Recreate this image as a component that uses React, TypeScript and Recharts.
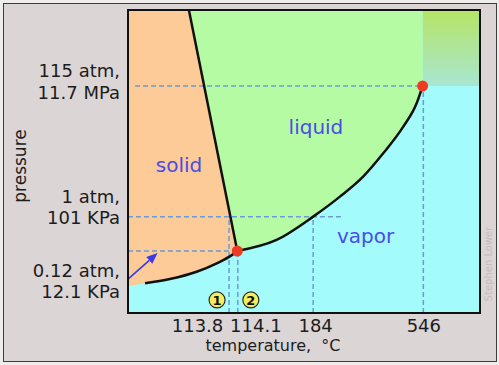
import React from 'react';
import {
  ComposedChart,
  XAxis,
  YAxis,
  Area,
  Line,
  ReferenceArea,
  ReferenceLine,
  ReferenceDot,
} from 'recharts';

// schematic phase diagram, both axes in arbitrary diagram units 0..100 (not to scale)
const TEMP_TICKS = [28.7, 31.2, 52.6, 83.9];
const TEMP_LABELS = ['113.8', '114.1', '184', '546'];
const PRESSURE_TICKS = [20.46, 31.8, 74.9];
const PRESSURE_LABELS = [
  ['0.12 atm,', '12.1 KPa'],
  ['1 atm,', '101 KPa'],
  ['115 atm,', '11.7 MPa'],
];

const MELT_T = [17.3, 31.05];
const MELT_P = [100, 20.46];
const SUBL_T = [0, 4.83, 11.9, 19.5, 25.2, 29.5, 31.05];
const SUBL_P = [8.9, 9.8, 11.2, 13.6, 16.4, 19.1, 20.46];
const VAPOR_T = [31.05, 42.2, 52.6, 60.2, 66.8, 72.5, 78.2, 82.0, 83.7];
const VAPOR_P = [20.46, 24.1, 31.8, 38.4, 45.0, 52.7, 61.5, 69.2, 74.9];
const TRIPLE = { t: 31.05, p: 20.46 };
const CRITICAL = { t: 83.7, p: 74.9 };
const ARROW = [{ t: 0, p: 11.2 }, { t: 8.4, p: 19.8 }];
const MARKS = [{ t: 25.3, p: 4.3, n: '1' }, { t: 34.9, p: 4.3, n: '2' }];
const REGIONS = [
  { t: 14.5, p: 48.8, name: 'solid' },
  { t: 53.4, p: 61.4, name: 'liquid' },
  { t: 67.5, p: 25.5, name: 'vapor' },
];

const zip = (t: number[], p: number[]) => t.map((x, i) => ({ t: x, p: p[i] }));

const FONT = '"DejaVu Sans", Verdana, sans-serif';
const SOLID = '#fccb98';
const LIQUID = '#b4fba4';
const VAPOR = '#a4fbfb';
const DASH = '#6e9bd0';
const TEXT = '#1c1c1c';
const REGION_TEXT = '#4c4ce6';

const TEMP_SHIFT = [-31.5, 18, 2.5, 0.5];
const PRESSURE_BASELINES = [
  [25.5, 46.5],
  [-14, 7],
  [-9, 13],
];

const TempTick = (props: any) => {
  const { x, payload } = props;
  const i = TEMP_TICKS.indexOf(payload.value);
  if (i < 0) return null;
  return (
    <text x={x + TEMP_SHIFT[i]} y={332} textAnchor="middle" fontSize={18} fontFamily={FONT} fill={TEXT}>
      {TEMP_LABELS[i]}
    </text>
  );
};

const PressureTick = (props: any) => {
  const { y, payload } = props;
  const i = PRESSURE_TICKS.indexOf(payload.value);
  if (i < 0) return null;
  return (
    <g>
      {PRESSURE_LABELS[i].map((s, k) => (
        <text key={k} x={120} y={y + PRESSURE_BASELINES[i][k]} textAnchor="end" fontSize={18} fontFamily={FONT} fill={TEXT}>
          {s}
        </text>
      ))}
    </g>
  );
};

const Arrow = (props: any) => {
  const { x1, y1, x2, y2 } = props;
  const a = Math.atan2(y2 - y1, x2 - x1);
  const c = Math.cos(a);
  const s = Math.sin(a);
  const bx = x2 - 11 * c;
  const by = y2 - 11 * s;
  return (
    <g>
      <line x1={x1} y1={y1} x2={bx} y2={by} stroke="#3a3ae8" strokeWidth={1.6} />
      <polygon
        points={`${x2},${y2} ${bx + 4.5 * s},${by - 4.5 * c} ${bx - 4.5 * s},${by + 4.5 * c}`}
        fill="#3a3ae8"
      />
    </g>
  );
};

export default function App() {
  const solidEdge = [{ t: 0, p: 100 }, ...zip(MELT_T, MELT_P)];
  const dashed = { stroke: DASH, strokeWidth: 1.5, strokeDasharray: '5 3' };

  return (
    <div style={{ position: 'absolute', left: 0, top: 0, width: 499, height: 365, background: '#efecec' }}>
      <div
        style={{
          position: 'absolute',
          left: 3,
          top: 3,
          width: 494,
          height: 359,
          boxSizing: 'border-box',
          border: '1.5px solid #3c3c3c',
          background: '#dbd5d6',
        }}
      />
      <div style={{ position: 'absolute', left: 0, top: 0 }}>
        <ComposedChart width={499} height={365} margin={{ top: 10, right: 19, bottom: 0, left: 0 }}>
          <defs>
            <linearGradient id="superCrit" x1="0" y1="0" x2="0" y2="1">
              <stop offset="0%" stopColor="#b6e464" />
              <stop offset="100%" stopColor="#a8e6d2" />
            </linearGradient>
          </defs>
          <XAxis
            dataKey="t"
            type="number"
            domain={[0, 100]}
            allowDataOverflow
            ticks={TEMP_TICKS}
            interval={0}
            height={52}
            axisLine={false}
            tickLine={false}
            tick={<TempTick />}
            label={{
              content: (p: any) => (
                <text
                  x={p.viewBox.x + 145}
                  y={351}
                  textAnchor="middle"
                  fontSize={16}
                  fontFamily={FONT}
                  fill={TEXT}
                  style={{ whiteSpace: 'pre' }}
                >
                  {'temperature,  °C'}
                </text>
              ),
            }}
          />
          <YAxis
            type="number"
            domain={[0, 100]}
            allowDataOverflow
            ticks={PRESSURE_TICKS}
            interval={0}
            width={128}
            axisLine={false}
            tickLine={false}
            tick={<PressureTick />}
            label={{
              content: () => (
                <text
                  x={20}
                  y={166}
                  transform="rotate(-90, 20, 166)"
                  textAnchor="middle"
                  dominantBaseline="central"
                  fontSize={17}
                  fontFamily={FONT}
                  fill={TEXT}
                >
                  pressure
                </text>
              ),
            }}
          />

          <ReferenceArea x1={0} x2={100} y1={0} y2={100} fill={VAPOR} fillOpacity={1} stroke="none" />
          <ReferenceArea x1={0} x2={31.5} y1={20.46} y2={100} fill={LIQUID} fillOpacity={1} stroke="none" />
          <ReferenceArea x1={CRITICAL.t} x2={100} y1={CRITICAL.p} y2={100} fill="url(#superCrit)" fillOpacity={1} stroke="none" />

          <Area data={zip(VAPOR_T, VAPOR_P)} dataKey="p" type="monotone" baseValue={100} fill={LIQUID} fillOpacity={1} stroke="none" isAnimationActive={false} />
          <Area data={solidEdge} dataKey="p" type="linear" baseValue={0} fill={SOLID} fillOpacity={1} stroke="none" isAnimationActive={false} />
          <Area data={zip(SUBL_T, SUBL_P)} dataKey="p" type="monotone" baseValue={0} fill={VAPOR} fillOpacity={1} stroke="none" isAnimationActive={false} />

          <ReferenceLine segment={[{ x: 2, y: 74.9 }, { x: CRITICAL.t, y: 74.9 }]} {...dashed} />
          <ReferenceLine segment={[{ x: 0, y: 31.8 }, { x: 60.5, y: 31.8 }]} {...dashed} />
          <ReferenceLine segment={[{ x: 0, y: TRIPLE.p }, { x: TRIPLE.t, y: TRIPLE.p }]} {...dashed} />
          <ReferenceLine segment={[{ x: 28.7, y: 0 }, { x: 28.7, y: 31.8 }]} {...dashed} />
          <ReferenceLine segment={[{ x: 31.2, y: 0 }, { x: 31.2, y: TRIPLE.p }]} {...dashed} />
          <ReferenceLine segment={[{ x: 52.6, y: 0 }, { x: 52.6, y: 31.8 }]} {...dashed} />
          <ReferenceLine segment={[{ x: 83.9, y: 0 }, { x: 83.9, y: CRITICAL.p }]} {...dashed} />

          <Line data={zip(MELT_T, MELT_P)} dataKey="p" type="linear" stroke="#111" strokeWidth={2.5} dot={false} activeDot={false} isAnimationActive={false} />
          <Line data={zip(SUBL_T.slice(1), SUBL_P.slice(1))} dataKey="p" type="monotone" stroke="#111" strokeWidth={2.5} dot={false} activeDot={false} isAnimationActive={false} />
          <Line data={zip(VAPOR_T, VAPOR_P)} dataKey="p" type="monotone" stroke="#111" strokeWidth={2.5} dot={false} activeDot={false} isAnimationActive={false} />

          <ReferenceLine segment={[{ x: ARROW[0].t, y: ARROW[0].p }, { x: ARROW[1].t, y: ARROW[1].p }]} shape={<Arrow />} />

          <ReferenceDot x={TRIPLE.t} y={TRIPLE.p} r={5.5} fill="#ee3b24" stroke="none" />
          <ReferenceDot x={CRITICAL.t} y={CRITICAL.p} r={5.5} fill="#ee3b24" stroke="none" />

          {MARKS.map((m) => (
            <ReferenceDot
              key={m.n}
              x={m.t}
              y={m.p}
              r={8}
              fill="#f4ed5c"
              stroke="#2a2a2a"
              strokeWidth={1.2}
              label={{ value: m.n, position: 'center', fontSize: 13, fontWeight: 'bold', fill: '#111', fontFamily: FONT }}
            />
          ))}
          {REGIONS.map((r) => (
            <ReferenceDot
              key={r.name}
              x={r.t}
              y={r.p}
              r={0}
              fill="none"
              stroke="none"
              label={{ value: r.name, position: 'center', fontSize: 20, fill: REGION_TEXT, fontFamily: FONT }}
            />
          ))}
        </ComposedChart>
      </div>
      <div
        style={{
          position: 'absolute',
          left: 127,
          top: 9,
          width: 354,
          height: 305,
          boxSizing: 'border-box',
          border: '2px solid #111',
          pointerEvents: 'none',
        }}
      />
      <svg width={499} height={365} style={{ position: 'absolute', left: 0, top: 0, pointerEvents: 'none' }}>
        <text
          x={488}
          y={264}
          transform="rotate(-90, 488, 264)"
          textAnchor="middle"
          dominantBaseline="central"
          fontSize={10}
          fontFamily={FONT}
          fill="#c4bcbd"
        >
          Stephen Lower
        </text>
      </svg>
    </div>
  );
}
